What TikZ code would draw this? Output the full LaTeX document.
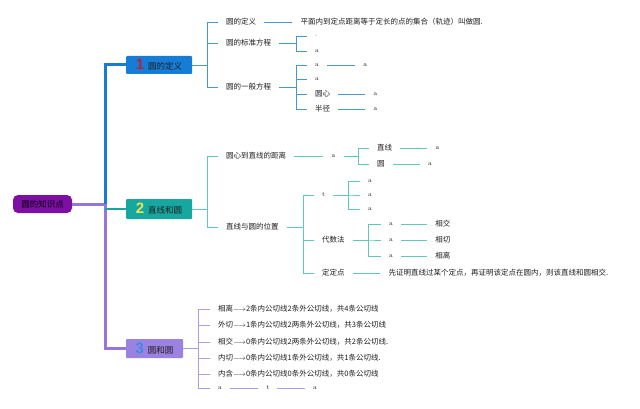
\documentclass[tikz,border=0pt]{standalone}
\usepackage{fontspec}
\newfontfamily\cjk{Noto Sans CJK SC}
\newfontfamily\numf{Liberation Sans}
\usetikzlibrary{positioning}
\definecolor{ink}{RGB}{30,30,30}
\definecolor{rootc}{RGB}{125,15,165}
\definecolor{blu}{RGB}{22,125,214}
\definecolor{tea}{RGB}{22,168,160}
\definecolor{lav}{RGB}{155,130,225}
\definecolor{trunkp}{RGB}{150,118,222}
\definecolor{numa}{RGB}{190,30,60}
\definecolor{numb}{RGB}{236,226,84}
\definecolor{numc}{RGB}{52,142,226}
\definecolor{lna}{RGB}{72,150,210}
\definecolor{lnb}{RGB}{95,200,190}
\definecolor{lnc}{RGB}{172,158,230}

\begin{document}
\begin{tikzpicture}[x=1pt,y=-1pt,
  txt/.style={anchor=west, inner sep=0pt, text=ink, font=\cjk\fontsize{7.5}{9}\selectfont},
  let/.style={anchor=west, inner sep=0pt, text=ink, font=\fontsize{6.5}{7}\selectfont},
  topic/.style={rectangle, rounded corners=1pt, inner sep=0pt, text=ink, font=\cjk\fontsize{8.5}{10}\selectfont},
  stub/.style={line width=0.8pt, shorten >=8pt},
  fork/.style={line width=0.8pt, shorten <=8pt, shorten >=8pt},
  trunk/.style={line width=3pt}]
\useasboundingbox (0,0) rectangle (640,409);

\node[topic, fill=rootc, rounded corners=5pt, minimum width=59pt, minimum height=18pt, text=black] (root) at (42.5,204) {圆的知识点};
\node[topic, fill=blu, minimum width=66pt, minimum height=18pt] (n1) at (159,65) {{\numf\bfseries\fontsize{15}{15}\selectfont\color{numa}1}\hspace{4pt}圆的定义};
\node[topic, fill=tea, minimum width=66pt, minimum height=20pt] (n2) at (159,209) {{\numf\bfseries\fontsize{15}{15}\selectfont\color{numb}2}\hspace{4pt}直线和圆};
\node[topic, fill=lav, minimum width=57pt, minimum height=19pt] (n3) at (154.5,348.5) {{\numf\bfseries\fontsize{15}{15}\selectfont\color{numc}3}\hspace{4pt}圆和圆};
\coordinate (hub) at (105,204);

% trunk
\draw[trunk, trunkp] (root.east) -- (hub);
\draw[trunk, blu] (hub) |- (n1.west);
\draw[trunk, trunkp] (hub) |- (n3.west);
\draw[line width=2pt, tea] (hub |- n2) -- (n2.west);

% 1 circle definition
\node[txt] (d1) at (226,22) {圆的定义};
\node[txt, right=44pt of d1] (d1t) {平面内到定点距离等于定长的点的集合（轨迹）叫做圆.};
\node[txt] (d2) at (226,43) {圆的标准方程};
\node[let] (d2a) at (315,36) {.};
\node[let] (d2b) at (315,51) {a};
\node[txt] (d3) at (226,87) {圆的一般方程};
\node[let] (d3a) at (315,65) {a};
\node[let, right=44pt of d3a] (d3a2) {a};
\node[let] (d3b) at (315,79) {a};
\node[txt] (d3c) at (315,94) {圆心};
\node[let, right=43pt of d3c] (d3c2) {a};
\node[txt] (d3d) at (315,109) {半径};
\node[let, right=43pt of d3d] (d3d2) {a};

\draw[stub, lna] (n1.east) -- ++(15,0) |- (d1.west);
\draw[stub, lna] (n1.east) -- ++(15,0) |- (d2.west);
\draw[stub, lna] (n1.east) -- ++(15,0) |- (d3.west);
\draw[fork, lna] (d1) -- (d1t);
\draw[fork, lna] (d2.east) -- ++(25,0) |- (d2a.west);
\draw[fork, lna] (d2.east) -- ++(25,0) |- (d2b.west);
\foreach \k in {d3a,d3b,d3c,d3d}
  \draw[fork, lna] (d3.east) -- ++(25,0) |- (\k.west);
\draw[fork, lna] (d3a) -- (d3a2);
\draw[fork, lna] (d3c) -- (d3c2);
\draw[fork, lna] (d3d) -- (d3d2);

% 2 line and circle
\node[txt] (e1) at (226,156) {圆心到直线的距离};
\node[let, right=45pt of e1] (e1a) {a};
\node[txt] (e1b) at (377,148) {直线};
\node[let, right=43pt of e1b] (e1b2) {a};
\node[txt] (e1c) at (377,164) {圆};
\node[let, right=43pt of e1c] (e1c2) {a};
\node[txt] (e2) at (226,227) {直线与圆的位置};
\node[let] (e2a) at (322,195) {t};
\node[let] (e2a1) at (368,181) {a};
\node[let] (e2a2) at (368,195) {a};
\node[let] (e2a3) at (368,209) {a};
\node[txt] (e2b) at (322,240) {代数法};
\node[let] (e2b1) at (389,224) {a};
\node[let] (e2b2) at (389,240) {a};
\node[let] (e2b3) at (389,256) {a};
\node[txt, right=42pt of e2b1] (e2r1) {相交};
\node[txt, right=42pt of e2b2] (e2r2) {相切};
\node[txt, right=42pt of e2b3] (e2r3) {相离};
\node[txt] (e2c) at (322,273) {定定点};
\node[txt, right=43.5pt of e2c] (e2ct) {先证明直线过某个定点，再证明该定点在圆内，则该直线和圆相交.};

\draw[stub, lnb] (n2.east) -- ++(15,0) |- (e1.west);
\draw[stub, lnb] (n2.east) -- ++(15,0) |- (e2.west);
\draw[fork, lnb] (e1) -- (e1a);
\draw[fork, lnb] (e1a.east) -- ++(23,0) |- (e1b.west);
\draw[fork, lnb] (e1a.east) -- ++(23,0) |- (e1c.west);
\draw[fork, lnb] (e1b) -- (e1b2);
\draw[fork, lnb] (e1c) -- (e1c2);
\foreach \k in {e2a,e2b,e2c}
  \draw[fork, lnb] (e2.east) -- ++(24.5,0) |- (\k.west);
\foreach \k in {e2a1,e2a2,e2a3}
  \draw[fork, lnb] (e2a.east) -- ++(23.5,0) |- (\k.west);
\foreach \k in {e2b1,e2b2,e2b3}
  \draw[fork, lnb] (e2b.east) -- ++(23.5,0) |- (\k.west);
\draw[fork, lnb] (e2b1) -- (e2r1);
\draw[fork, lnb] (e2b2) -- (e2r2);
\draw[fork, lnb] (e2b3) -- (e2r3);
\draw[fork, lnb] (e2c) -- (e2ct);

% 3 circle and circle
\node[txt] (g1) at (218,309) {相离$\longrightarrow$2条内公切线2条外公切线，共4条公切线};
\node[txt] (g2) at (218,325) {外切$\longrightarrow$1条内公切线2两条外公切线，共3条公切线};
\node[txt] (g3) at (218,342) {相交$\longrightarrow$0条内公切线2两条外公切线，共2条公切线.};
\node[txt] (g4) at (218,358) {内切$\longrightarrow$0条内公切线1条外公切线，共1条公切线.};
\node[txt] (g5) at (218,374) {内含$\longrightarrow$0条内公切线0条外公切线，共0条公切线};
\node[let] (g6) at (218,388) {a};
\node[let, right=44pt of g6] (g6t) {t};
\node[let, right=43.5pt of g6t] (g6a) {a};

\foreach \k in {g1,g2,g3,g4,g5,g6}
  \draw[stub, lnc] (n3.east) -- ++(15,0) |- (\k.west);
\draw[fork, lnc] (g6) -- (g6t);
\draw[fork, lnc] (g6t) -- (g6a);
\end{tikzpicture}
\end{document}
